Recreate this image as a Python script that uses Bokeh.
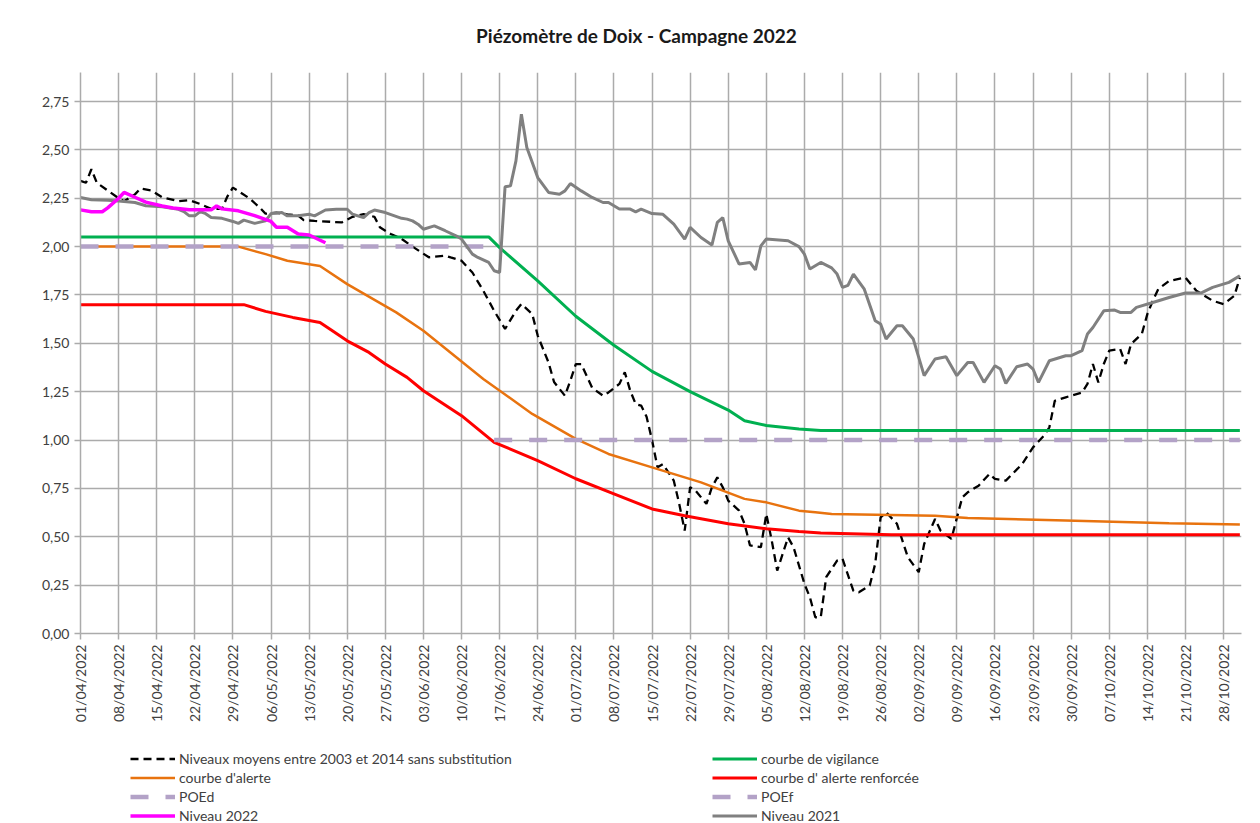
import math
from bokeh.plotting import figure
from bokeh.layouts import column
from bokeh.models import FixedTicker, Range1d, Legend, LegendItem, Label, CustomJSTickFormatter
from bokeh.embed import file_html
from bokeh.resources import INLINE

# x = jours depuis le 01/04/2022
x_tick_days = list(range(0, 211, 7))
x_tick_labels = ["01/04/2022", "08/04/2022", "15/04/2022", "22/04/2022", "29/04/2022",
                 "06/05/2022", "13/05/2022", "20/05/2022", "27/05/2022", "03/06/2022",
                 "10/06/2022", "17/06/2022", "24/06/2022", "01/07/2022", "08/07/2022",
                 "15/07/2022", "22/07/2022", "29/07/2022", "05/08/2022", "12/08/2022",
                 "19/08/2022", "26/08/2022", "02/09/2022", "09/09/2022", "16/09/2022",
                 "23/09/2022", "30/09/2022", "07/10/2022", "14/10/2022", "21/10/2022",
                 "28/10/2022"]
y_ticks = [0.0, 0.25, 0.5, 0.75, 1.0, 1.25, 1.5, 1.75, 2.0, 2.25, 2.5, 2.75]

# Niveaux moyens entre 2003 et 2014 sans substitution
moy_j = [0, 1, 2, 3, 5, 7, 8, 10, 11, 13, 15, 18, 20, 22, 24, 26, 27, 28, 31, 33, 34, 36, 38, 40,
         41, 43, 48, 50, 52, 54, 55, 57, 59, 61, 64, 67, 68, 70, 72, 74, 76, 78, 80, 81, 83, 84,
         86, 87, 89, 90, 91, 92, 94, 96, 97, 99, 100, 101, 102, 103, 104, 105, 106, 107, 109,
         110, 111, 112, 113, 115, 116, 117, 118, 119, 121, 122, 123, 125, 126, 127, 128, 130,
         131, 133, 134, 135, 136, 137, 139, 140, 142, 143, 145, 146, 147, 148, 150, 152, 154,
         155, 157, 158, 160, 162, 163, 165, 167, 168, 170, 173, 175, 177, 178, 179, 181, 184,
         185, 186, 187, 188, 189, 191, 192, 193, 195, 196, 197, 198, 200, 203, 205, 208, 210,
         212, 213]
moy_v = [2.34, 2.33, 2.40, 2.33, 2.29, 2.25, 2.235, 2.27, 2.30, 2.29, 2.255, 2.235, 2.24, 2.22,
         2.195, 2.195, 2.26, 2.305, 2.25, 2.20, 2.17, 2.175, 2.167, 2.16, 2.137, 2.133, 2.125,
         2.154, 2.168, 2.154, 2.10, 2.065, 2.04, 2.00, 1.945, 1.953, 1.944, 1.927, 1.866, 1.772,
         1.668, 1.574, 1.668, 1.703, 1.651, 1.54, 1.40, 1.30, 1.229, 1.307, 1.393, 1.393, 1.27,
         1.229, 1.246, 1.29, 1.35, 1.255, 1.186, 1.178, 1.12, 1.00, 0.86, 0.876, 0.79, 0.67,
         0.532, 0.756, 0.739, 0.67, 0.756, 0.807, 0.756, 0.687, 0.635, 0.567, 0.455, 0.446,
         0.618, 0.48, 0.325, 0.497, 0.446, 0.257, 0.188, 0.084, 0.084, 0.291, 0.377, 0.386,
         0.22, 0.213, 0.248, 0.36, 0.60, 0.627, 0.567, 0.394, 0.317, 0.463, 0.592, 0.532, 0.489,
         0.704, 0.73, 0.764, 0.825, 0.799, 0.79, 0.876, 0.962, 1.023, 1.066, 1.203, 1.221,
         1.246, 1.29, 1.393, 1.298, 1.393, 1.462, 1.471, 1.393, 1.496, 1.55, 1.651, 1.72, 1.78,
         1.823, 1.84, 1.772, 1.72, 1.703, 1.746, 1.84]

# courbe de vigilance
vig_j = [0, 75, 77, 84, 91, 98, 105, 112, 119, 122, 126, 132, 136, 213]
vig_v = [2.05, 2.05, 1.995, 1.823, 1.64, 1.49, 1.355, 1.25, 1.155, 1.10, 1.075, 1.057, 1.05, 1.05]

# courbe d'alerte
ale_j = [0, 29, 34, 38, 44, 49, 58, 63, 74, 83, 91, 97, 105, 114, 122, 126, 132, 135, 138, 157,
         163, 181, 200, 213]
ale_v = [2.00, 2.00, 1.961, 1.927, 1.90, 1.806, 1.66, 1.565, 1.316, 1.135, 1.006, 0.928, 0.859,
         0.781, 0.696, 0.678, 0.635, 0.627, 0.618, 0.609, 0.597, 0.584, 0.57, 0.563]

# courbe d' alerte renforcée
ren_j = [0, 30, 34, 39, 44, 46, 49, 53, 56, 60, 63, 70, 76, 84, 91, 98, 105, 111, 119, 126, 132,
         136, 149, 213]
ren_v = [1.70, 1.70, 1.665, 1.634, 1.608, 1.57, 1.513, 1.453, 1.393, 1.324, 1.255, 1.126, 0.988,
         0.894, 0.80, 0.722, 0.644, 0.609, 0.567, 0.541, 0.527, 0.52, 0.51, 0.51]

# POEd / POEf
poed_j = [0, 74]
poed_v = [2.00, 2.00]
poef_j = [76, 213]
poef_v = [1.00, 1.00]

# Niveau 2022
n22_j = [0, 2, 4, 5, 7, 8, 10, 12, 15, 17, 20, 24, 25, 26, 29, 32, 35, 36, 38, 40, 42, 45]
n22_v = [2.19, 2.18, 2.18, 2.20, 2.25, 2.28, 2.255, 2.23, 2.21, 2.20, 2.19, 2.19, 2.21, 2.195,
         2.185, 2.16, 2.13, 2.10, 2.10, 2.065, 2.06, 2.02]

# Niveau 2021
n21_j = [0, 2, 5, 7, 10, 12, 15, 18, 19, 20, 21, 22, 23, 24, 26, 28, 29, 30, 32, 34, 35, 37, 38,
         40, 42, 43, 45, 47, 49, 50, 52, 53, 54, 56, 59, 60, 61, 62, 63, 65, 67, 69, 70, 72, 73,
         75, 76, 77, 78, 79, 80, 81, 82, 84, 86, 88, 89, 90, 92, 94, 96, 97, 99, 101, 102, 103,
         105, 107, 109, 111, 112, 114, 116, 117, 118, 119, 121, 123, 124, 125, 126, 130, 132,
         133, 134, 136, 138, 139, 140, 141, 142, 144, 146, 147, 148, 150, 151, 153, 155, 157,
         159, 161, 163, 164, 166, 168, 169, 170, 172, 174, 175, 176, 178, 181, 182, 184, 185,
         186, 188, 190, 191, 193, 194, 197, 200, 203, 206, 208, 211, 213]
n21_v = [2.254, 2.242, 2.24, 2.236, 2.228, 2.211, 2.206, 2.193, 2.181, 2.159, 2.159, 2.181, 2.17,
         2.15, 2.146, 2.13, 2.12, 2.137, 2.12, 2.133, 2.171, 2.176, 2.159, 2.159, 2.167, 2.159,
         2.189, 2.193, 2.193, 2.167, 2.15, 2.176, 2.189, 2.176, 2.146, 2.142, 2.133, 2.116, 2.09,
         2.107, 2.082, 2.056, 2.039, 1.961, 1.944, 1.918, 1.875, 1.866, 2.309, 2.314, 2.443,
         2.684, 2.512, 2.357, 2.28, 2.271, 2.288, 2.326, 2.288, 2.254, 2.228, 2.228, 2.194,
         2.194, 2.18, 2.194, 2.171, 2.167, 2.116, 2.039, 2.099, 2.047, 2.008, 2.125, 2.15, 2.03,
         1.91, 1.918, 1.88, 2.004, 2.039, 2.03, 2.00, 1.961, 1.884, 1.918, 1.89, 1.858, 1.789,
         1.80, 1.858, 1.78, 1.617, 1.60, 1.522, 1.591, 1.591, 1.522, 1.333, 1.419, 1.431, 1.333,
         1.401, 1.401, 1.298, 1.384, 1.367, 1.293, 1.379, 1.393, 1.367, 1.298, 1.41, 1.436,
         1.436, 1.462, 1.548, 1.582, 1.668, 1.672, 1.66, 1.66, 1.686, 1.711, 1.737, 1.76, 1.762,
         1.789, 1.815, 1.849]

FONT = "Lato"
TXT = "#404040"
GRID = "#ababab"
W = 1260
BL, BR = 80, 19   # shared left/right borders (column aligns frames)

STYLES = {
    "moy": dict(line_color="black", line_width=2.3, line_dash="8 5"),
    "vig": dict(line_color="#00B050", line_width=3),
    "ale": dict(line_color="#E8730F", line_width=2.5),
    "ren": dict(line_color="#FF0000", line_width=3),
    "poe": dict(line_color="#B3A2C7", line_width=4.5, line_dash="18 17"),
    "n21": dict(line_color="#808080", line_width=3),
    "n22": dict(line_color="#FF00FF", line_width=3.5),
}

# ---- Title strip ----
pt = figure(width=W, height=72, output_backend="svg", toolbar_location=None,
            x_axis_type=None, y_axis_type=None, min_border=0,
            min_border_left=BL, min_border_right=BR,
            x_range=Range1d(0, 1), y_range=Range1d(0, 1))
pt.outline_line_color = None
pt.grid.visible = False
pt.add_layout(Label(x=636 - BL, y=37, x_units="screen", y_units="screen",
                    text="Piézomètre de Doix - Campagne 2022", text_align="center",
                    text_baseline="middle", text_font=FONT, text_font_size="19px",
                    text_font_style="bold", text_color="#1a1a1a"))

# ---- Main chart ----
p = figure(width=W, height=676, output_backend="svg", toolbar_location=None,
           x_range=Range1d(0, 213.3), y_range=Range1d(0, 2.9),
           min_border_left=BL, min_border_right=BR, min_border_top=0, min_border_bottom=115)
p.outline_line_color = None
p.xaxis.ticker = FixedTicker(ticks=x_tick_days)
p.xaxis.formatter = CustomJSTickFormatter(args=dict(labels=x_tick_labels),
                                          code="return labels[Math.round(tick/7)];")
p.xaxis.major_label_orientation = math.pi / 2
p.yaxis.ticker = FixedTicker(ticks=y_ticks)
p.yaxis.formatter = CustomJSTickFormatter(code="return tick.toFixed(2).replace('.', ',');")
for ax in (p.xaxis, p.yaxis):
    ax.axis_line_color = GRID
    ax.axis_line_width = 1.5
    ax.major_tick_line_color = GRID
    ax.major_tick_line_width = 1.5
    ax.major_tick_in = 0
    ax.major_tick_out = 6
    ax.minor_tick_line_color = None
    ax.major_label_text_font = FONT
    ax.major_label_text_font_size = "14px"
    ax.major_label_text_color = TXT
    ax.major_label_standoff = 5
p.xgrid.ticker = FixedTicker(ticks=x_tick_days)
p.ygrid.ticker = FixedTicker(ticks=y_ticks)
for g in (p.xgrid, p.ygrid):
    g.grid_line_color = GRID
    g.grid_line_width = 1.5

p.line(moy_j, moy_v, **STYLES["moy"])
p.line(vig_j, vig_v, **STYLES["vig"])
p.line(ale_j, ale_v, **STYLES["ale"])
p.line(ren_j, ren_v, **STYLES["ren"])
p.line(poed_j, poed_v, **STYLES["poe"])
p.line(poef_j, poef_v, **STYLES["poe"])
p.line(n21_j, n21_v, **STYLES["n21"])
p.line(n22_j, n22_v, **STYLES["n22"])

# ---- Legend strip ----
pl = figure(width=W, height=75, output_backend="svg", toolbar_location=None,
            x_axis_type=None, y_axis_type=None, min_border=0,
            min_border_left=BL, min_border_right=BR,
            x_range=Range1d(0, 1), y_range=Range1d(0, 1))
pl.outline_line_color = None
pl.grid.visible = False
# invisible stand-ins (one point outside the view) that carry each legend style
lr = {k: pl.line([-5, -4], [-5, -5], **v) for k, v in STYLES.items()}


def make_legend(items, loc):
    return Legend(items=items, location=loc, orientation="vertical",
                  glyph_width=45, glyph_height=19, label_height=19, label_standoff=4,
                  spacing=0, padding=0, margin=0, border_line_color=None,
                  background_fill_alpha=0, label_text_font=FONT,
                  label_text_font_size="14px", label_text_color=TXT)


pl.add_layout(make_legend([
    LegendItem(label="Niveaux moyens entre 2003 et 2014 sans substitution", renderers=[lr["moy"]]),
    LegendItem(label="courbe d'alerte", renderers=[lr["ale"]]),
    LegendItem(label="POEd", renderers=[lr["poe"]]),
    LegendItem(label="Niveau 2022", renderers=[lr["n22"]])], (130 - BL, -2)))
pl.add_layout(make_legend([
    LegendItem(label="courbe de vigilance", renderers=[lr["vig"]]),
    LegendItem(label="courbe d' alerte renforcée", renderers=[lr["ren"]]),
    LegendItem(label="POEf", renderers=[lr["poe"]]),
    LegendItem(label="Niveau 2021", renderers=[lr["n21"]])], (712 - BL, -2)))

layout = column(pt, p, pl, spacing=0)
open("out.html", "w").write(file_html(layout, INLINE))
